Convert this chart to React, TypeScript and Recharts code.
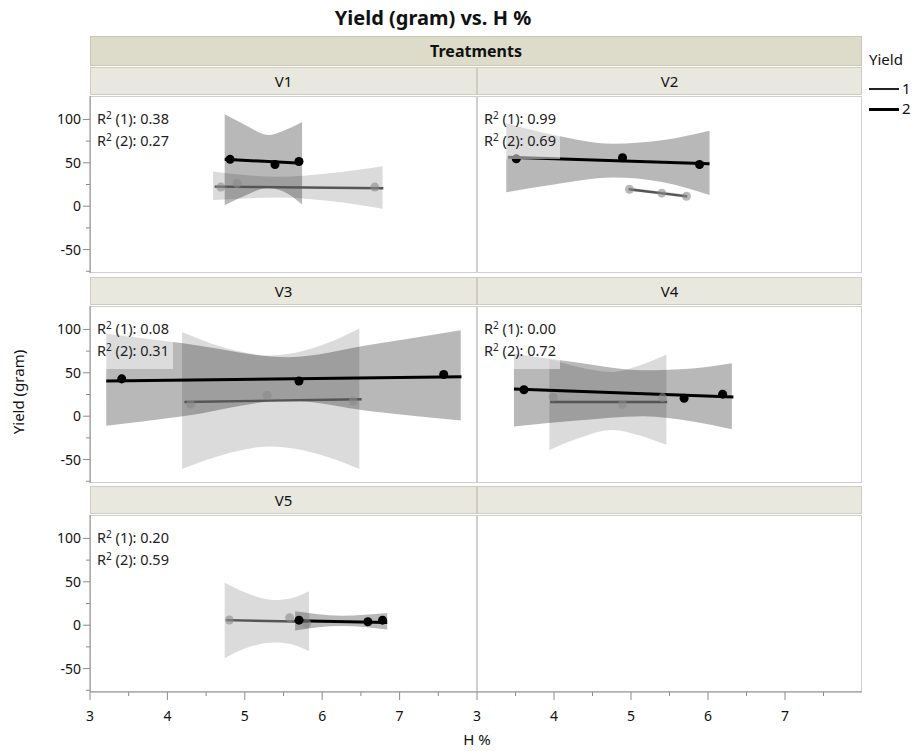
import React from 'react';
import { ComposedChart, Area, Line, Scatter, XAxis, YAxis } from 'recharts';

// ---- data ----
const treatments = ['V1', 'V2', 'V3', 'V4', 'V5'];
const r2Yield1 = ['0.38', '0.99', '0.08', '0.00', '0.20'];
const r2Yield2 = ['0.27', '0.69', '0.31', '0.72', '0.59'];

const xTicks = [3, 3.5, 4, 4.5, 5, 5.5, 6, 6.5, 7, 7.5];
const yTicks = [-75, -50, -25, 0, 25, 50, 75, 100];

// V1
const v1Pts1 = [{ x: 4.69, y: 22 }, { x: 4.9, y: 26 }, { x: 6.68, y: 22 }];
const v1Pts2 = [{ x: 4.81, y: 54 }, { x: 5.39, y: 48 }, { x: 5.7, y: 51.5 }];
const v1Fit1 = [{ x: 4.61, y: 22.5 }, { x: 6.79, y: 20.7 }];
const v1Fit2 = [{ x: 4.74, y: 54 }, { x: 5.74, y: 49.5 }];
const v1Band1 = [
  { x: 4.59, lo: 7, hi: 40 }, { x: 5.0, lo: 9, hi: 36 }, { x: 5.42, lo: 10, hi: 34 },
  { x: 6.1, lo: 6, hi: 38 }, { x: 6.78, lo: -3, hi: 46 },
];
const v1Band2 = [
  { x: 4.74, lo: 1, hi: 106 }, { x: 5.0, lo: 12, hi: 94 }, { x: 5.3, lo: 21, hi: 82 },
  { x: 5.5, lo: 17, hi: 87 }, { x: 5.74, lo: 2, hi: 97 },
];

// V2
const v2Pts1 = [{ x: 4.98, y: 19.6 }, { x: 5.4, y: 15 }, { x: 5.72, y: 11.5 }];
const v2Pts2 = [{ x: 3.51, y: 54.6 }, { x: 4.89, y: 55.8 }, { x: 5.89, y: 48 }];
const v2Fit1 = [{ x: 4.97, y: 19.5 }, { x: 5.73, y: 11.3 }];
const v2Fit2 = [{ x: 3.4, y: 56.5 }, { x: 6.02, y: 48.8 }];
const v2Band1 = [{ x: 4.97, lo: 17.5, hi: 21.5 }, { x: 5.35, lo: 14, hi: 17.6 }, { x: 5.73, lo: 9, hi: 13.6 }];
const v2Band2 = [
  { x: 3.38, lo: 16, hi: 96 }, { x: 4.0, lo: 25, hi: 82 }, { x: 4.76, lo: 33, hi: 72 },
  { x: 5.4, lo: 28, hi: 76 }, { x: 6.02, lo: 13, hi: 87 },
];

// V3
const v3Pts1 = [{ x: 4.3, y: 13.7 }, { x: 5.29, y: 24.2 }, { x: 6.4, y: 17.5 }];
const v3Pts2 = [{ x: 3.41, y: 43 }, { x: 5.7, y: 40.6 }, { x: 7.57, y: 48 }];
const v3Fit1 = [{ x: 4.22, y: 16.4 }, { x: 6.51, y: 19.5 }];
const v3Fit2 = [{ x: 3.21, y: 40.6 }, { x: 7.8, y: 45.6 }];
const v3Band1 = [
  { x: 4.19, lo: -61, hi: 97 }, { x: 4.7, lo: -45, hi: 80 }, { x: 5.33, lo: -35, hi: 70 },
  { x: 6.0, lo: -45, hi: 82 }, { x: 6.48, lo: -61, hi: 101 },
];
const v3Band2 = [
  { x: 3.21, lo: -11, hi: 95 }, { x: 4.2, lo: 0, hi: 84 }, { x: 5.56, lo: 18, hi: 68 },
  { x: 6.6, lo: 6, hi: 82 }, { x: 7.79, lo: -5, hi: 99 },
];

// V4
const v4Pts1 = [{ x: 3.99, y: 22 }, { x: 4.89, y: 13.7 }, { x: 5.41, y: 21.4 }];
const v4Pts2 = [{ x: 3.61, y: 30.4 }, { x: 5.69, y: 20.7 }, { x: 6.19, y: 25.4 }];
const v4Fit1 = [{ x: 3.95, y: 16.4 }, { x: 5.47, y: 16.4 }];
const v4Fit2 = [{ x: 3.48, y: 31.2 }, { x: 6.33, y: 22.2 }];
const v4Band1 = [
  { x: 3.94, lo: -39, hi: 66 }, { x: 4.3, lo: -26, hi: 57 }, { x: 4.76, lo: -16, hi: 51 },
  { x: 5.1, lo: -22, hi: 58 }, { x: 5.46, lo: -33, hi: 71 },
];
const v4Band2 = [
  { x: 3.48, lo: -12, hi: 72 }, { x: 4.3, lo: -5, hi: 62 }, { x: 5.16, lo: 0, hi: 53 },
  { x: 5.8, lo: -6, hi: 55 }, { x: 6.31, lo: -15, hi: 61 },
];

// V5
const v5Pts1 = [{ x: 4.8, y: 6 }, { x: 5.58, y: 8.5 }, { x: 5.8, y: 2 }];
const v5Pts2 = [{ x: 5.7, y: 5.8 }, { x: 6.59, y: 3.9 }, { x: 6.78, y: 5.8 }];
const v5Fit1 = [{ x: 4.76, y: 5.8 }, { x: 5.82, y: 3.9 }];
const v5Fit2 = [{ x: 5.66, y: 5 }, { x: 6.84, y: 3.2 }];
const v5Band1 = [
  { x: 4.74, lo: -38, hi: 49 }, { x: 5.0, lo: -27, hi: 38 }, { x: 5.39, lo: -20, hi: 29 },
  { x: 5.6, lo: -22, hi: 31 }, { x: 5.83, lo: -30, hi: 39 },
];
const v5Band2 = [
  { x: 5.65, lo: -6, hi: 16 }, { x: 6.25, lo: -1, hi: 11 }, { x: 6.84, lo: -5, hi: 14 },
];

const pts1 = [v1Pts1, v2Pts1, v3Pts1, v4Pts1, v5Pts1];
const pts2 = [v1Pts2, v2Pts2, v3Pts2, v4Pts2, v5Pts2];
const fits1 = [v1Fit1, v2Fit1, v3Fit1, v4Fit1, v5Fit1];
const fits2 = [v1Fit2, v2Fit2, v3Fit2, v4Fit2, v5Fit2];
const bands1 = [v1Band1, v2Band1, v3Band1, v4Band1, v5Band1];
const bands2 = [v1Band2, v2Band2, v3Band2, v4Band2, v5Band2];

// ---- layout ----
const FONT = '"Noto Sans", "Open Sans", sans-serif';
const AXIS = '#8c8c8c';
const PLOT_L = 90;
const MID_X = 477;
const PLOT_R = 862;
const ROW_TOP = [67, 277, 486];
const HEAD_H = 28;
const PLOT_H = 177;
const X_AXIS_H = 50;
const PAD_R = 20; // room left of the right column so its "3" label isn't clipped

const bandKey = (d: any) => [d.lo, d.hi];

const YTick = (props: any) => {
  const { y, payload } = props;
  const major = payload.value % 50 === 0;
  return (
    <g>
      <line x1={PLOT_L - (major ? 7 : 4)} x2={PLOT_L} y1={y} y2={y} stroke={AXIS} />
      {major && (
        <text x={PLOT_L - 9} y={y} dy={5} textAnchor="end" fontSize={14} fill="#111" fontFamily={FONT}>
          {payload.value}
        </text>
      )}
    </g>
  );
};

const XTick = (props: any) => {
  const { x, payload } = props;
  const major = Number.isInteger(payload.value);
  return (
    <g>
      <line x1={x} x2={x} y1={PLOT_H} y2={PLOT_H + (major ? 8 : 4)} stroke={AXIS} />
      {major && (
        <text x={x} y={PLOT_H + 29} textAnchor="middle" fontSize={14} fill="#111" fontFamily={FONT}>
          {payload.value}
        </text>
      )}
    </g>
  );
};

const sup = <span style={{ fontSize: 10, position: 'relative', top: -5 }}>2</span>;

function Panel({ i, col, row, showX }: { i: number; col: number; row: number; showX: boolean }) {
  const left = col === 0 ? 0 : MID_X - PAD_R;
  const plotLeft = col === 0 ? PLOT_L : MID_X;
  const plotRight = col === 0 ? MID_X : PLOT_R;
  const width = col === 0 ? MID_X : PLOT_R - MID_X + PAD_R;
  const height = PLOT_H + (showX ? X_AXIS_H : 0);
  const top = ROW_TOP[row] + HEAD_H + 1;
  const has = i < treatments.length;
  return (
    <>
      <div
        style={{
          position: 'absolute', left: plotLeft, top: ROW_TOP[row], width: plotRight - plotLeft,
          height: HEAD_H, background: '#e9e8df', boxSizing: 'border-box', border: '1px solid #cfcdbf',
          textAlign: 'center', lineHeight: `${HEAD_H - 2}px`, fontSize: 15, color: '#111',
        }}
      >
        {has ? treatments[i] : ''}
      </div>
      <div
        style={{
          position: 'absolute', left: plotLeft, top, width: plotRight - plotLeft, height: PLOT_H,
          background: '#fff', boxSizing: 'border-box', border: '1px solid #cfcfcf',
        }}
      />
      <div style={{ position: 'absolute', left, top }}>
        <ComposedChart
          width={width}
          height={height}
          margin={{ top: 0, right: 0, bottom: 0, left: col === 0 ? 0 : PAD_R }}
        >
          <XAxis
            type="number" dataKey="x" domain={[3, 8]} ticks={xTicks} interval={0} allowDataOverflow
            hide={!showX} height={X_AXIS_H} tickLine={false} tick={XTick} axisLine={{ stroke: AXIS }}
          />
          <YAxis
            type="number" domain={[-77, 127]} ticks={yTicks} interval={0} allowDataOverflow
            hide={col !== 0} width={col === 0 ? PLOT_L : 0} tickLine={false} tick={YTick} axisLine={{ stroke: AXIS }}
          />
          {has && (
            <Area data={bands1[i]} dataKey={bandKey} type="monotone" fill="#000" fillOpacity={0.14}
              stroke="none" isAnimationActive={false} />
          )}
          {has && (
            <Area data={bands2[i]} dataKey={bandKey} type="monotone" fill="#000" fillOpacity={0.28}
              stroke="none" isAnimationActive={false} />
          )}
          {has && (
            <Scatter data={pts1[i]} dataKey="y" fill="#8a8a8a" fillOpacity={0.6} shape="circle"
              isAnimationActive={false} />
          )}
          {has && (
            <Line data={fits1[i]} dataKey="y" stroke="#555" strokeWidth={2.4} dot={false}
              isAnimationActive={false} />
          )}
          {has && (
            <Line data={fits2[i]} dataKey="y" stroke="#000" strokeWidth={3} dot={false}
              isAnimationActive={false} />
          )}
          {has && (
            <Scatter data={pts2[i]} dataKey="y" fill="#000" shape="circle" isAnimationActive={false} />
          )}
        </ComposedChart>
      </div>
      {has && (
        <div
          style={{
            position: 'absolute', left: plotLeft + 1, top: top + 8, padding: '4px 4px 7px 6px',
            background: 'rgba(255,255,255,0.5)', fontSize: 14.5, lineHeight: '20px', color: '#222',
            whiteSpace: 'nowrap',
          }}
        >
          <div>R{sup} (1): {r2Yield1[i]}</div>
          <div>R{sup} (2): {r2Yield2[i]}</div>
        </div>
      )}
    </>
  );
}

export default function App() {
  return (
    <div style={{ position: 'absolute', left: 0, top: 0, width: 921, height: 751, background: '#fff', fontFamily: FONT }}>
      <div style={{ position: 'absolute', left: 0, width: 866, top: 4, textAlign: 'center', fontSize: 20, fontWeight: 700, color: '#111' }}>
        Yield (gram) vs. H %
      </div>
      <div
        style={{
          position: 'absolute', left: PLOT_L, top: 36, width: PLOT_R - PLOT_L, height: 30,
          background: '#dddbca', boxSizing: 'border-box', border: '1px solid #c9c7b6',
          textAlign: 'center', lineHeight: '28px', fontSize: 16, fontWeight: 700, color: '#111',
        }}
      >
        Treatments
      </div>
      <Panel i={0} col={0} row={0} showX={false} />
      <Panel i={1} col={1} row={0} showX={false} />
      <Panel i={2} col={0} row={1} showX={false} />
      <Panel i={3} col={1} row={1} showX={false} />
      <Panel i={4} col={0} row={2} showX={true} />
      <Panel i={5} col={1} row={2} showX={true} />
      <div
        style={{
          position: 'absolute', left: 18, top: 392, transform: 'translate(-50%, -50%) rotate(-90deg)',
          fontSize: 15, color: '#111', whiteSpace: 'nowrap',
        }}
      >
        Yield (gram)
      </div>
      <div style={{ position: 'absolute', left: 0, width: 954, top: 729, textAlign: 'center', fontSize: 15, color: '#111' }}>
        H %
      </div>
      <div style={{ position: 'absolute', left: 869, top: 49, fontSize: 15, color: '#111' }}>Yield</div>
      <div style={{ position: 'absolute', left: 869, top: 88, width: 30, height: 2, background: '#222' }} />
      <div style={{ position: 'absolute', left: 902, top: 78, fontSize: 15, color: '#111' }}>1</div>
      <div style={{ position: 'absolute', left: 869, top: 108, width: 30, height: 3, background: '#000' }} />
      <div style={{ position: 'absolute', left: 902, top: 98, fontSize: 15, color: '#111' }}>2</div>
    </div>
  );
}
